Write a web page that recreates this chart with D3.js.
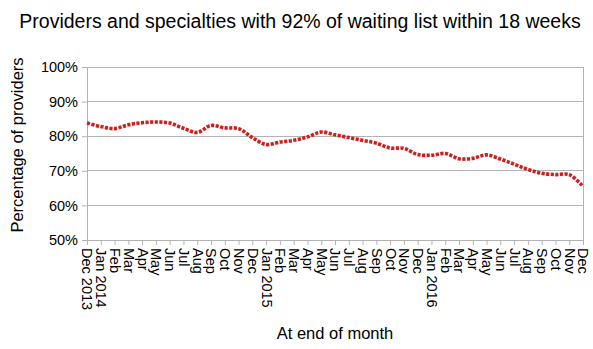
<!DOCTYPE html>
<html><head><meta charset="utf-8">
<script src="https://cdn.jsdelivr.net/npm/d3@7"></script>
<style>body{margin:0;background:#fff}svg{display:block}text{font-family:"Liberation Sans",Arial,sans-serif;fill:#000}</style>
</head><body>
<svg id="c" width="593" height="349"></svg>
<script>
const months = ["Dec 2013","Jan 2014","Feb","Mar","Apr","May","Jun","Jul","Aug","Sep","Oct","Nov","Dec",
  "Jan 2015","Feb","Mar","Apr","May","Jun","Jul","Aug","Sep","Oct","Nov","Dec",
  "Jan 2016","Feb","Mar","Apr","May","Jun","Jul","Aug","Sep","Oct","Nov","Dec"];
const pctProviders = [83.8,82.8,82.2,83.3,83.9,84.1,83.8,82.3,81.1,83.1,82.4,82.2,79.6,
  77.6,78.3,78.8,79.8,81.2,80.4,79.6,78.8,78.0,76.6,76.5,74.7,
  74.5,75.0,73.5,73.6,74.6,73.4,71.9,70.4,69.3,68.9,68.9,65.5];
const yTicks = [50,60,70,80,90,100];

const svg = d3.select("#c");
const L = 87, R = 583, T = 67, B = 240;
const idx = months.map((d,i)=>i);
const x = d3.scalePoint().domain(idx).range([L,R]);
const y = d3.scaleLinear().domain([50,100]).range([B,T]);
const grid = "#b3b3b3";

// gridlines
svg.append("g").selectAll("line").data(yTicks).join("line")
  .attr("x1",L).attr("x2",R).attr("y1",d=>y(d)).attr("y2",d=>y(d))
  .attr("stroke",grid).attr("stroke-width",1).attr("shape-rendering","crispEdges");
// frame verticals
svg.append("line").attr("x1",L).attr("x2",L).attr("y1",T).attr("y2",B+5).attr("stroke",grid).attr("shape-rendering","crispEdges");
svg.append("line").attr("x1",R).attr("x2",R).attr("y1",T).attr("y2",B+5).attr("stroke",grid).attr("shape-rendering","crispEdges");

// y axis
const ya = svg.append("g").attr("transform",`translate(${L},0)`)
  .call(d3.axisLeft(y).tickValues(yTicks).tickFormat(d=>d+"%").tickSize(5).tickPadding(4));
ya.select(".domain").remove();
ya.selectAll(".tick line").attr("stroke",grid);
ya.selectAll(".tick text").attr("font-size","14.5px").attr("font-family","Liberation Sans, Arial, sans-serif").attr("fill","#000");

// x axis
const xa = svg.append("g").attr("transform",`translate(0,${B})`)
  .call(d3.axisBottom(x).tickFormat(i=>months[i]).tickSize(5).tickPadding(0));
xa.select(".domain").remove();
xa.selectAll(".tick line").attr("stroke",grid);
xa.selectAll(".tick text")
  .attr("font-size","14.5px").attr("font-family","Liberation Sans, Arial, sans-serif").attr("fill","#000")
  .attr("text-anchor","start").attr("dy","0.35em").attr("y",0)
  .attr("transform","translate(0,8) rotate(90)");

// line
const line = d3.line().x((d,i)=>x(i)).y(d=>y(d)).curve(d3.curveCatmullRom.alpha(0.5));
svg.append("path").datum(pctProviders).attr("d",line)
  .attr("fill","none").attr("stroke","#c9211e").attr("stroke-width",3.6)
  .attr("stroke-dasharray","3.2,1.4");

// titles
svg.append("text").attr("x",300).attr("y",28).attr("text-anchor","middle")
  .attr("font-size","19.5px").text("Providers and specialties with 92% of waiting list within 18 weeks");
svg.append("text").attr("transform","translate(23,145) rotate(-90)").attr("text-anchor","middle")
  .attr("font-size","16.5px").text("Percentage of providers");
svg.append("text").attr("x",335).attr("y",339).attr("text-anchor","middle")
  .attr("font-size","16.5px").text("At end of month");
</script>
</body></html>
